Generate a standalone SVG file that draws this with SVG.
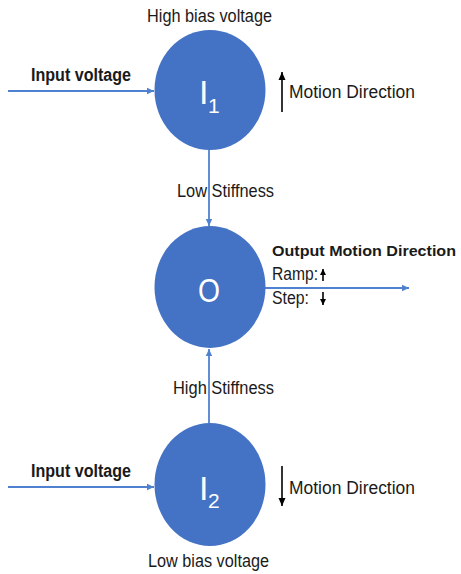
<svg xmlns="http://www.w3.org/2000/svg" width="461" height="574" viewBox="0 0 461 574">
<defs>
<style>
.t{font-family:"Liberation Sans",Arial,sans-serif;font-size:17.5px;fill:#1a1a1a}
.b{font-weight:bold}
.w{font-family:"Liberation Sans",Arial,sans-serif;fill:#fff}
.node{fill:#4472C4}
.c{stroke:#4F81D0;stroke-width:1.8;fill:none}
.k{stroke:#000;stroke-width:1.6;fill:none}
</style>
<marker id="ab" markerWidth="8" markerHeight="8" refX="7" refY="4" orient="auto" markerUnits="userSpaceOnUse">
<path d="M0,0.8 L7,4 L0,7.2 Z" fill="#4F81D0"/>
</marker>
<marker id="ak" markerWidth="9" markerHeight="9" refX="8" refY="4" orient="auto" markerUnits="userSpaceOnUse">
<path d="M0,0.5 L8,4 L0,7.5 Z" fill="#000"/>
</marker>
<marker id="as" markerWidth="7" markerHeight="7" refX="6" refY="3" orient="auto" markerUnits="userSpaceOnUse">
<path d="M0,0 L6,3 L0,6 Z" fill="#000"/>
</marker>
</defs>
<rect width="461" height="574" fill="#fff"/>
<g id="connectors">
<line class="c" x1="8" y1="91" x2="154" y2="91" marker-end="url(#ab)"/>
<line class="c" x1="209" y1="150" x2="209" y2="226" marker-end="url(#ab)"/>
<line class="c" x1="209" y1="423" x2="209" y2="349" marker-end="url(#ab)"/>
<line class="c" x1="265" y1="288" x2="409" y2="288" marker-end="url(#ab)"/>
<line class="c" x1="8" y1="487" x2="154" y2="487" marker-end="url(#ab)"/>
<text class="t" x="177" y="197" textLength="97" lengthAdjust="spacingAndGlyphs">Low Stiffness</text>
<text class="t" x="173" y="394" textLength="101" lengthAdjust="spacingAndGlyphs">High Stiffness</text>
</g>
<g id="I1">
<ellipse class="node" cx="210" cy="90" rx="55.5" ry="60"/>
<text class="w" x="199" y="104" font-size="34">I</text>
<text class="w" x="208" y="113" font-size="21">1</text>
<text class="t" x="147" y="22" textLength="125" lengthAdjust="spacingAndGlyphs">High bias voltage</text>
<text class="t b" x="31" y="81" textLength="100" lengthAdjust="spacingAndGlyphs">Input voltage</text>
<line class="k" x1="282" y1="112" x2="282" y2="72" marker-end="url(#ak)"/>
<text class="t" x="289" y="98" textLength="126" lengthAdjust="spacingAndGlyphs">Motion Direction</text>
</g>
<g id="O">
<ellipse class="node" cx="210" cy="287" rx="55.5" ry="61"/>
<text class="w" x="198" y="302" font-size="34" textLength="22" lengthAdjust="spacingAndGlyphs">O</text>
<text class="t b" x="272" y="256" style="font-size:15px" textLength="184" lengthAdjust="spacingAndGlyphs">Output Motion Direction</text>
<text class="t" x="272" y="280" textLength="46" lengthAdjust="spacingAndGlyphs">Ramp:</text>
<line class="k" x1="323" y1="281" x2="323" y2="269" stroke-width="1.5" marker-end="url(#as)"/>
<text class="t" x="272" y="304" textLength="37" lengthAdjust="spacingAndGlyphs">Step:</text>
<line class="k" x1="323" y1="292" x2="323" y2="305" stroke-width="1.5" marker-end="url(#as)"/>
</g>
<g id="I2">
<ellipse class="node" cx="210" cy="484.5" rx="55.5" ry="61.5"/>
<text class="w" x="199" y="500" font-size="34">I</text>
<text class="w" x="208" y="508" font-size="21">2</text>
<text class="t" x="148" y="567" textLength="121" lengthAdjust="spacingAndGlyphs">Low bias voltage</text>
<text class="t b" x="31" y="477" textLength="100" lengthAdjust="spacingAndGlyphs">Input voltage</text>
<line class="k" x1="282" y1="466" x2="282" y2="506" marker-end="url(#ak)"/>
<text class="t" x="289" y="494" textLength="126" lengthAdjust="spacingAndGlyphs">Motion Direction</text>
</g>
</svg>
